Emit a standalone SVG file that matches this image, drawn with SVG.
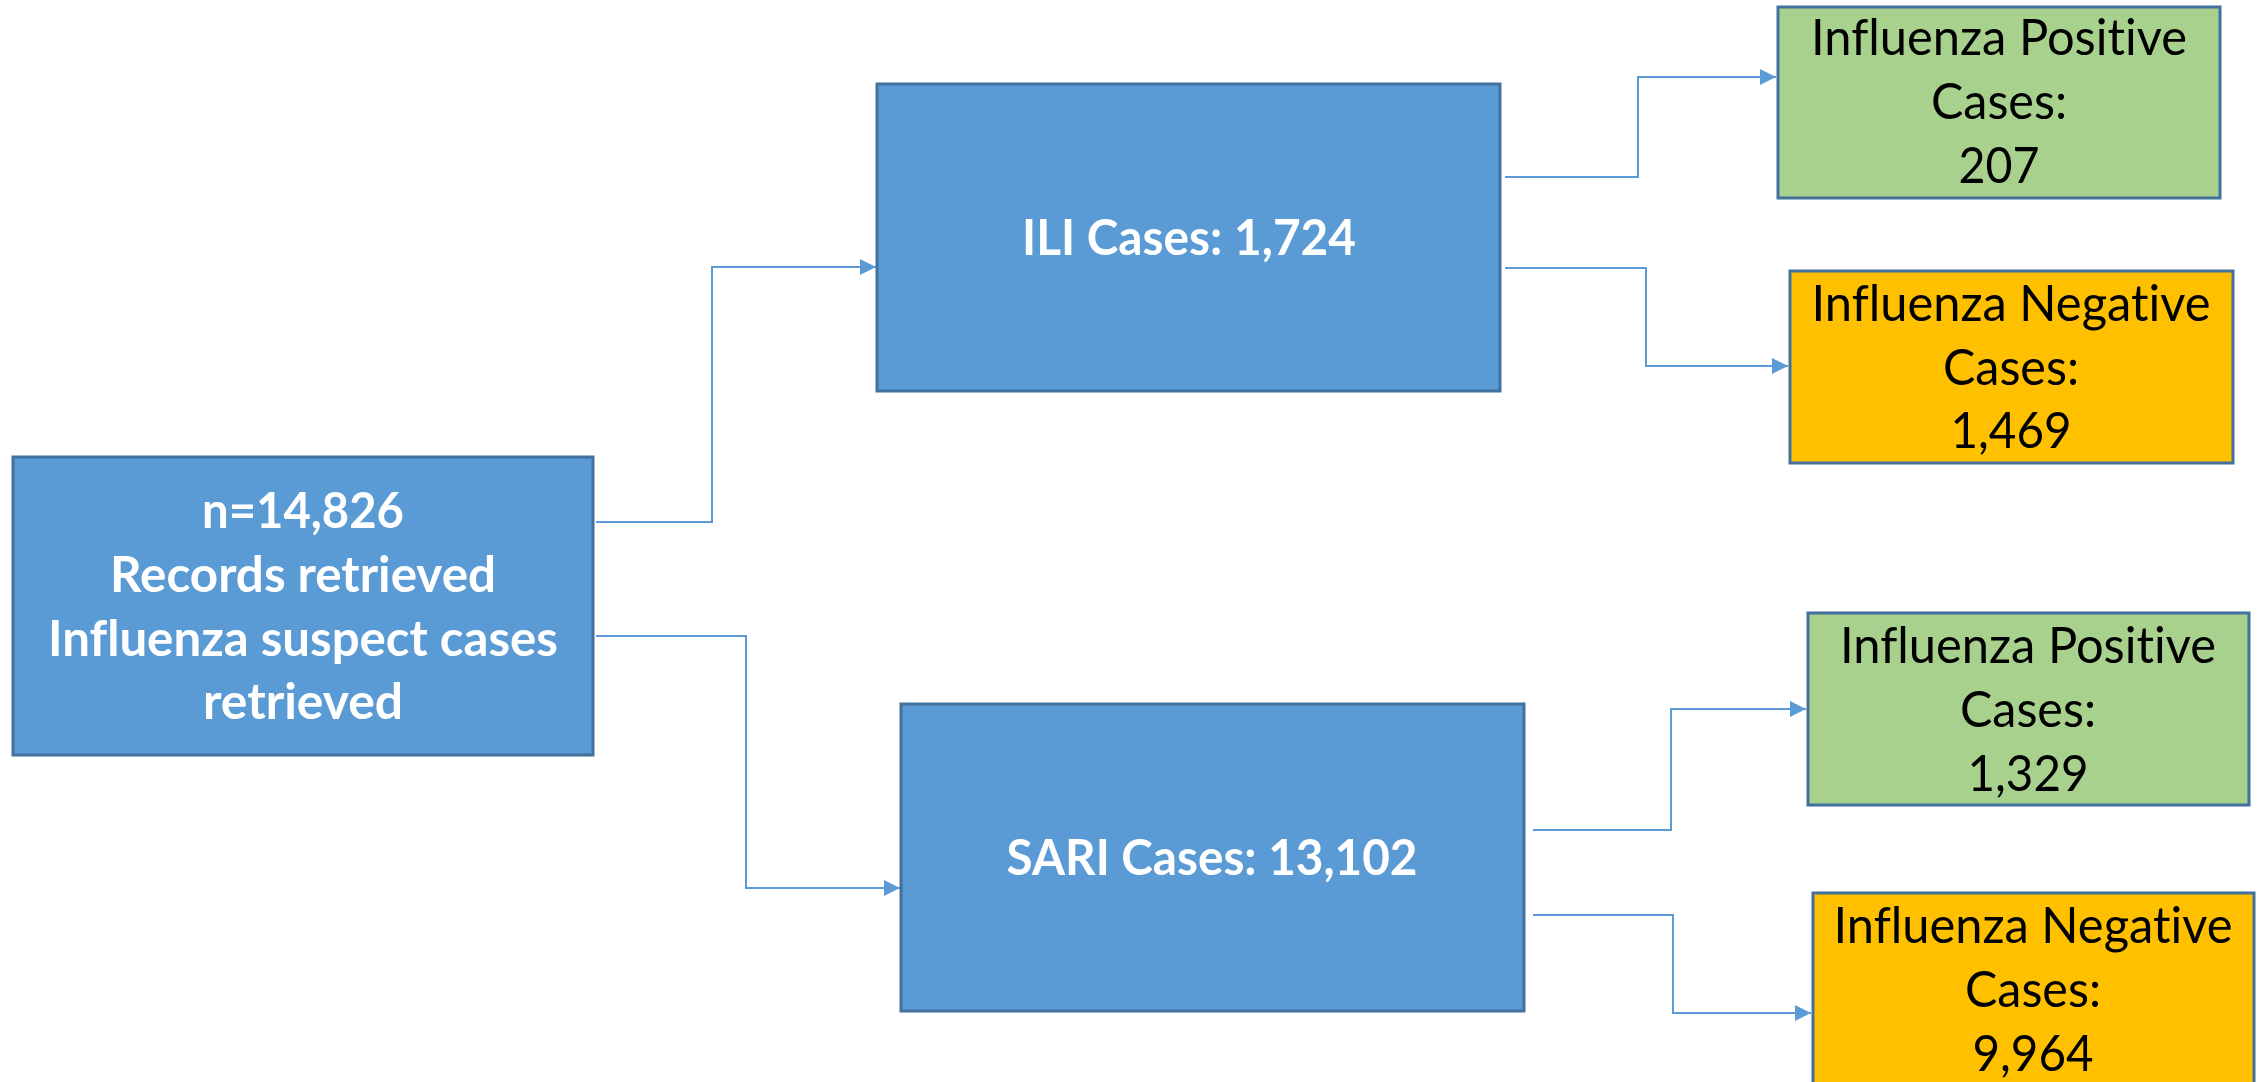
<svg xmlns="http://www.w3.org/2000/svg" width="2257" height="1082" viewBox="0 0 2257 1082">
<style>
.blue{fill:#5B9BD5;stroke:#41719C;stroke-width:3}
.green{fill:#A9D18E;stroke:#41719C;stroke-width:3}
.orange{fill:#FFC000;stroke:#41719C;stroke-width:3}
.w{font-family:Lato,"Noto Sans","Liberation Sans",sans-serif;font-size:50px;font-weight:bold;fill:#FFFFFF;text-anchor:middle;font-variant-ligatures:none}
.k{font-family:Lato,"Noto Sans","Liberation Sans",sans-serif;font-size:50px;fill:#000000;text-anchor:middle;font-variant-ligatures:none}
.conn{fill:none;stroke:#5B9BD5;stroke-width:2}
</style>
<defs>
<marker id="arr" markerUnits="userSpaceOnUse" markerWidth="16" markerHeight="16" refX="16" refY="8" orient="auto">
<path d="M0,0 L16,8 L0,16 z" fill="#5B9BD5"/>
</marker>
</defs>
<rect width="2257" height="1082" fill="#FFFFFF"/>
<g id="connectors">
<path class="conn" marker-end="url(#arr)" d="M596,522 H712 V267 H876"/>
<path class="conn" marker-end="url(#arr)" d="M596,636 H746 V888 H900"/>
<path class="conn" marker-end="url(#arr)" d="M1505,177 H1638 V77 H1776"/>
<path class="conn" marker-end="url(#arr)" d="M1505,268 H1646 V366 H1788"/>
<path class="conn" marker-end="url(#arr)" d="M1533,830 H1671 V709 H1806"/>
<path class="conn" marker-end="url(#arr)" d="M1533,915 H1673 V1013 H1811"/>
</g>
<g id="node-records">
<rect class="blue" x="13" y="457" width="580" height="298"/>
<text class="w" x="303" y="528" textLength="202" lengthAdjust="spacingAndGlyphs">n=14,826</text>
<text class="w" x="303" y="592" textLength="386" lengthAdjust="spacingAndGlyphs">Records retrieved</text>
<text class="w" x="303" y="656" textLength="510" lengthAdjust="spacingAndGlyphs">Influenza suspect cases</text>
<text class="w" x="303" y="719" textLength="200" lengthAdjust="spacingAndGlyphs">retrieved</text>
</g>
<g id="node-ili">
<rect class="blue" x="877" y="84" width="623" height="307"/>
<text class="w" x="1189" y="255" textLength="334" lengthAdjust="spacingAndGlyphs">ILI Cases: 1,724</text>
</g>
<g id="node-sari">
<rect class="blue" x="901" y="704" width="623" height="307"/>
<text class="w" x="1212" y="875" textLength="411" lengthAdjust="spacingAndGlyphs">SARI Cases: 13,102</text>
</g>
<g id="node-ili-positive">
<rect class="green" x="1778" y="7" width="442" height="191"/>
<text class="k" x="1999" y="55" textLength="376" lengthAdjust="spacingAndGlyphs">Influenza Positive</text>
<text class="k" x="1999" y="119" textLength="136" lengthAdjust="spacingAndGlyphs">Cases:</text>
<text class="k" x="1999" y="183" textLength="81" lengthAdjust="spacingAndGlyphs">207</text>
</g>
<g id="node-ili-negative">
<rect class="orange" x="1790" y="271" width="443" height="192"/>
<text class="k" x="2011" y="321" textLength="399" lengthAdjust="spacingAndGlyphs">Influenza Negative</text>
<text class="k" x="2011" y="385" textLength="136" lengthAdjust="spacingAndGlyphs">Cases:</text>
<text class="k" x="2011" y="448" textLength="121" lengthAdjust="spacingAndGlyphs">1,469</text>
</g>
<g id="node-sari-positive">
<rect class="green" x="1808" y="613" width="441" height="192"/>
<text class="k" x="2028" y="663" textLength="376" lengthAdjust="spacingAndGlyphs">Influenza Positive</text>
<text class="k" x="2028" y="727" textLength="136" lengthAdjust="spacingAndGlyphs">Cases:</text>
<text class="k" x="2028" y="791" textLength="121" lengthAdjust="spacingAndGlyphs">1,329</text>
</g>
<g id="node-sari-negative">
<rect class="orange" x="1813" y="893" width="441" height="220"/>
<text class="k" x="2033" y="943" textLength="399" lengthAdjust="spacingAndGlyphs">Influenza Negative</text>
<text class="k" x="2033" y="1007" textLength="136" lengthAdjust="spacingAndGlyphs">Cases:</text>
<text class="k" x="2033" y="1071" textLength="121" lengthAdjust="spacingAndGlyphs">9,964</text>
</g>
</svg>
